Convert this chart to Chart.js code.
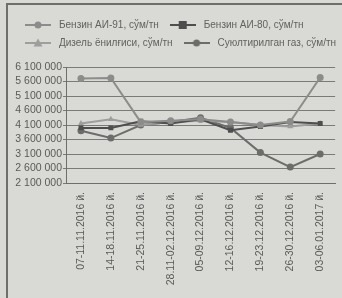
<!DOCTYPE html>
<html>
<head>
<meta charset="utf-8">
<script src="https://cdn.jsdelivr.net/npm/chart.js@4.4.0/dist/chart.umd.min.js"></script>
<style>
  html, body { margin: 0; padding: 0; background: #d9d9d6; }
  #wrap { position: relative; width: 342px; height: 298px; overflow: hidden; }
  #frame { position: absolute; left: 6px; top: 3px; width: 400px; height: 400px;
           border: 2px solid #6e6e6c; box-sizing: border-box; pointer-events: none; }
  canvas { position: absolute; left: 0; top: 0; }
</style>
</head>
<body>
<div id="wrap">
  <canvas id="c" width="342" height="298"></canvas>
  <div id="frame"></div>
</div>
<script>
const categories = [
  "07-11.11.2016 й.", "14-18.11.2016 й.", "21-25.11.2016 й.", "28.11-02.12.2016 й.",
  "05-09.12.2016 й.", "12-16.12.2016 й.", "19-23.12.2016 й.", "26-30.12.2016 й.", "03-06.01.2017 й."
];
const seriesNames = ["Бензин АИ-91, сўм/тн", "Бензин АИ-80, сўм/тн", "Дизель ёнилғиси, сўм/тн", "Суюлтирилган газ, сўм/тн"];
const ai91   = [5700000, 5720000, 4200000, 4250000, 4300000, 4200000, 4100000, 4220000, 5740000];
const ai80   = [4000000, 4000000, 4230000, 4150000, 4300000, 3920000, 4050000, 4200000, 4150000];
const diesel = [4150000, 4300000, 4100000, 4200000, 4250000, 4200000, 4100000, 4050000, 4150000];
const gas    = [3900000, 3650000, 4100000, 4200000, 4350000, 4000000, 3150000, 2650000, 3100000];
const yMin = 2100000, yMax = 6100000, yStep = 500000;

const colors = ["#8c8c8a", "#4e4e4e", "#9e9e9c", "#6c6c6a"];
const markers = ["circle", "rect", "triangle", "circle"];

function fmt(v) { return String(v).replace(/\B(?=(\d{3})+(?!\d))/g, " "); }

function legendIcon(color, marker) {
  const cv = document.createElement("canvas");
  cv.width = 26; cv.height = 10;
  const g = cv.getContext("2d");
  g.strokeStyle = color; g.fillStyle = color; g.lineWidth = 2;
  g.beginPath(); g.moveTo(0, 5); g.lineTo(26, 5); g.stroke();
  g.beginPath();
  if (marker === "rect") g.rect(9, 1, 8, 8);
  else if (marker === "triangle") { g.moveTo(13, 0.5); g.lineTo(17.5, 8.5); g.lineTo(8.5, 8.5); g.closePath(); }
  else g.arc(13, 5, 3.5, 0, Math.PI * 2);
  g.fill();
  return cv;
}
const icons = colors.map((c, i) => legendIcon(c, markers[i]));

const values = [ai91, ai80, diesel, gas];
const datasets = values.map((d, i) => ({
  label: seriesNames[i],
  data: d,
  borderColor: colors[i],
  backgroundColor: colors[i],
  borderWidth: 2,
  pointStyle: markers[i],
  pointRadius: 3.5,
  pointBorderWidth: 0,
  tension: 0
}));

Chart.defaults.font.family = "'Liberation Sans', Arial, sans-serif";
Chart.defaults.font.size = 10;
Chart.defaults.color = "#5a5a58";

const chart = new Chart(document.getElementById("c"), {
  type: "line",
  data: { labels: categories, datasets: datasets },
  options: {
    responsive: false,
    animation: false,
    layout: { padding: { top: 12, left: 14, right: 2, bottom: 2 } },
    plugins: {
      tooltip: { enabled: false },
      legend: {
        position: "top",
        align: "start",
        labels: {
          usePointStyle: true,
          pointStyleWidth: 32,
          padding: 8,
          color: "#626260",
          font: { size: 10 },
          generateLabels: (ch) => {
            const items = Chart.defaults.plugins.legend.labels.generateLabels(ch);
            items.forEach((it, i) => { it.pointStyle = icons[i]; });
            return items;
          }
        }
      }
    },
    scales: {
      x: {
        offset: true,
        grid: { display: false, drawTicks: false },
        border: { display: true, color: "#6e6e6c", width: 1 },
        ticks: { minRotation: 90, maxRotation: 90, autoSkip: false, padding: 9, color: "#5a5a58", font: { size: 10.5 } },
        afterFit: (s) => { s.height = 113; }
      },
      y: {
        min: yMin, max: yMax,
        grid: { color: "#7a7a78", lineWidth: 1, tickLength: 3 },
        border: { display: true, color: "#6e6e6c", width: 1 },
        ticks: { stepSize: yStep, autoSkip: false, padding: 1, color: "#5a5a58", font: { size: 10.5 }, callback: (v) => fmt(v) },
        afterFit: (s) => { s.width = 52; }
      }
    }
  }
});
const lg = chart.legend;
const origFit = lg.fit;
lg.fit = function () {
  this.maxWidth = 360;
  origFit.call(this);
  this.height += 9;
};
const origDraw = lg.draw;
lg.draw = function () {
  const r = this.right;
  this.right = 400;
  origDraw.call(this);
  this.right = r;
};
chart.update();
</script>
</body>
</html>
